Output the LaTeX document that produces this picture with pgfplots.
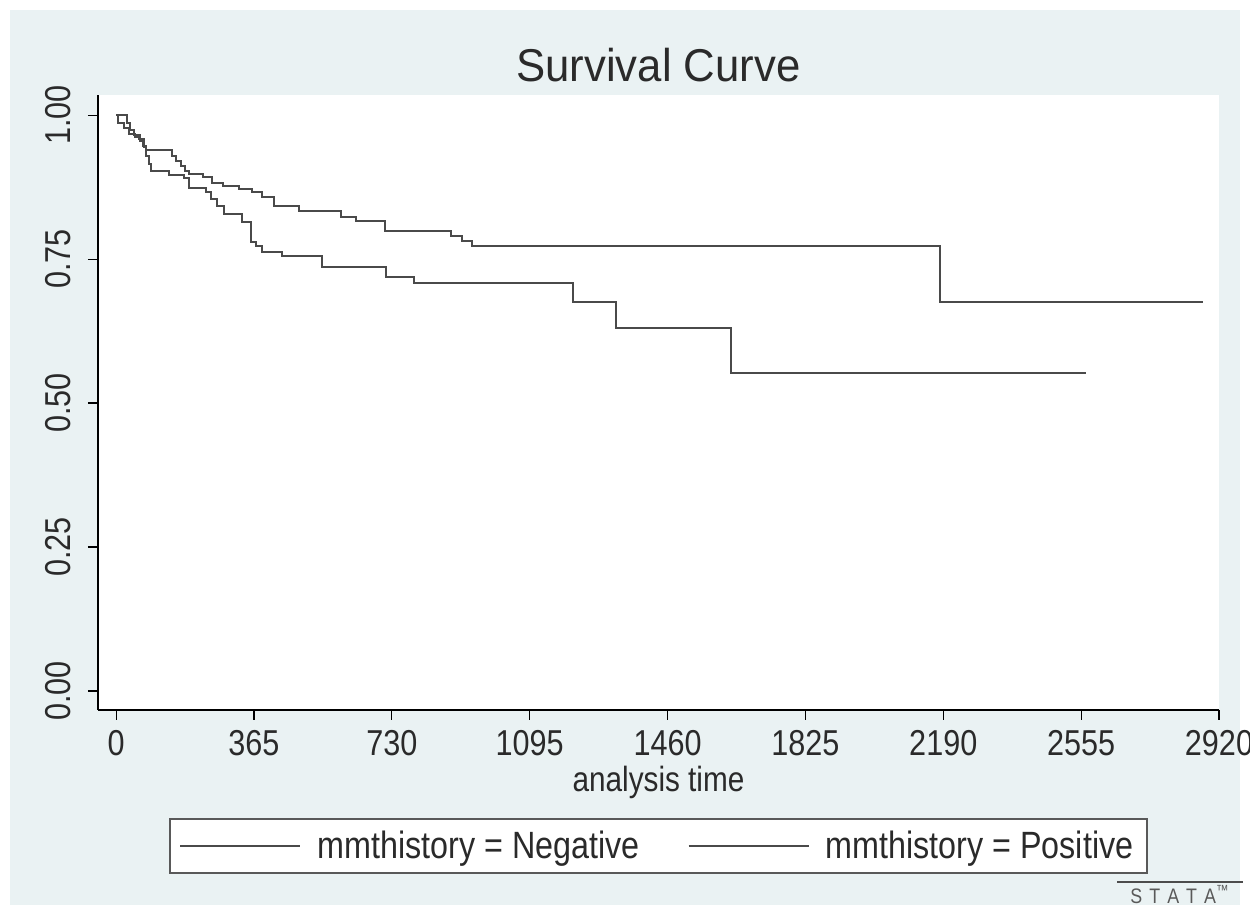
\documentclass[border=0pt]{standalone}
\usepackage{fontspec}
\setmainfont{Liberation Sans}[FakeStretch=0.85]
\newfontfamily\titlefont{Liberation Sans}[FakeStretch=0.95]
\usepackage{pgfplots}
\pgfplotsset{compat=1.18}
\definecolor{bgc}{HTML}{EAF2F3}
\definecolor{curve}{HTML}{4A4A4A}
\definecolor{txt}{HTML}{2A2A2A}

\begin{document}
\begin{tikzpicture}
\fill[white] (0,0) rectangle (625pt,457.5pt);
\fill[bgc] (5pt,5pt) rectangle (620pt,452.5pt);
\useasboundingbox (0,0) rectangle (625pt,457.5pt);
\begin{axis}[
  at={(49pt,102.5pt)}, anchor=south west,
  scale only axis, width=560.5pt, height=307.5pt,
  xmin=-48, xmax=2920, ymin=-0.033, ymax=1.035,
  axis x line*=bottom, axis y line*=left,
  axis line style={black, line width=1pt, -},
  axis background/.style={fill=white},
  xtick={0,365,730,1095,1460,1825,2190,2555,2920},
  xticklabels={0,365,730,1095,1460,1825,2190,2555,2920},
  ytick={0,0.25,0.5,0.75,1},
  yticklabels={0.00,0.25,0.50,0.75,1.00},
  tick align=outside, major tick length=5pt,
  tick style={black, line width=0.6pt},
  every tick label/.append style={font=\fontsize{18}{20}\selectfont, text=txt},
  xticklabel style={anchor=base, yshift=-18pt},
  yticklabel style={rotate=90, anchor=base, yshift=8.5pt},
  title={\titlefont Survival Curve},
  title style={font=\fontsize{23}{26}\selectfont, text=txt, at={(axis description cs:0.5,1)}, anchor=base, yshift=0.5pt},
  xlabel={analysis time},
  xlabel style={font=\fontsize{17.5}{20}\selectfont, text=txt, at={(axis description cs:0.5,0)}, anchor=base, yshift=-41pt},
  legend columns=2,
  legend style={at={(axis description cs:0.5,-0.221)}, anchor=center,
    draw=black!65, line width=1pt, fill=white,
    font=\fontsize{19}{21}\selectfont, text=txt,
    inner xsep=5pt, inner ysep=4pt,
    /tikz/every even column/.append style={column sep=22pt}},
  legend image code/.code={\draw[#1, line width=0.9pt] (0pt,0pt) -- (60pt,0pt); \path (66pt,0pt);},
]
% mmthistory = Negative
\addplot[const plot, curve, line width=1pt] coordinates {
(0,1) (30,0.987) (38,0.975) (48,0.966) (62,0.955) (72,0.947) (79,0.939)
(148,0.929) (158,0.920) (172,0.911) (182,0.903) (193,0.898) (229,0.892)
(255,0.883) (282,0.877) (326,0.872) (361,0.866) (387,0.857) (418,0.843)
(485,0.834) (595,0.823) (635,0.817) (713,0.799) (887,0.790) (916,0.781)
(943,0.772) (2180,0.675) (2878,0.675)
};
\addlegendentry{mmthistory = Negative}
% mmthistory = Positive
\addplot[const plot, curve, line width=1pt] coordinates {
(0,1) (4,0.987) (20,0.978) (35,0.968) (50,0.962) (61,0.958) (74,0.944)
(79,0.929) (86,0.915) (92,0.903) (140,0.896) (180,0.890) (193,0.874)
(237,0.866) (251,0.854) (268,0.843) (286,0.828) (334,0.814) (357,0.779)
(370,0.773) (387,0.762) (440,0.756) (546,0.736) (715,0.719) (789,0.708)
(1210,0.675) (1324,0.630) (1628,0.552) (2568,0.552)
};
\addlegendentry{mmthistory = Positive}
\end{axis}
\draw[black!70, line width=1pt] (558.5pt,16.5pt) -- (621.5pt,16.5pt);
\node[font=\fontsize{10.5}{10.5}\selectfont, text=black!65, inner sep=0pt] at (590pt,10pt) {S\hspace{3.5pt}T\hspace{3.5pt}A\hspace{3.5pt}T\hspace{3.5pt}A\textsuperscript{™}};
\end{tikzpicture}
\end{document}
